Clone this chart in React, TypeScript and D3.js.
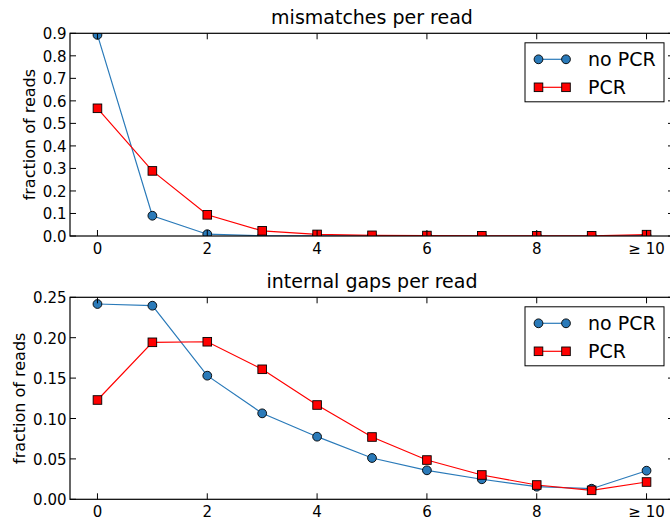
import React from "react";
import * as d3 from "d3";

const xValues = [0, 1, 2, 3, 4, 5, 6, 7, 8, 9, 10];
const xTickValues = [0, 2, 4, 6, 8, 10];
const xTickLabels = ["0", "2", "4", "6", "8", "\u2265 10"];

const mismatchNoPCR = [0.893, 0.09, 0.008, 0.001, 0.0005, 0.0003, 0.0002, 0.0001, 0.0001, 0.0001, 0.0015];
const mismatchPCR = [0.567, 0.289, 0.094, 0.023, 0.007, 0.003, 0.002, 0.001, 0.001, 0.001, 0.006];
const mismatchYTicks = [0, 0.1, 0.2, 0.3, 0.4, 0.5, 0.6, 0.7, 0.8, 0.9];

const gapsNoPCR = [0.2417, 0.2396, 0.153, 0.1064, 0.0775, 0.0511, 0.0359, 0.0248, 0.0156, 0.0131, 0.0354];
const gapsPCR = [0.1229, 0.1943, 0.195, 0.1609, 0.1167, 0.0771, 0.0486, 0.0301, 0.0177, 0.0111, 0.0214];
const gapsYTicks = [0, 0.05, 0.1, 0.15, 0.2, 0.25];

const seriesNames = ["no PCR", "PCR"];
const BLUE = "#2a7ab9";
const RED = "#ff0000";
const FONT = "DejaVu Sans, sans-serif";

type PanelProps = {
  id: string;
  title: string;
  top: number;
  bottom: number;
  yMax: number;
  yTicks: number[];
  yFmt: (v: number) => string;
  noPCR: number[];
  pcr: number[];
  ylabelX: number;
};

const LEFT = 70;
const RIGHT = 674;
const TICK = 6;

function Circle({ x, y }: { x: number; y: number }) {
  return <circle cx={x} cy={y} r={4.4} fill={BLUE} stroke="#000" strokeWidth={0.9} />;
}
function Square({ x, y }: { x: number; y: number }) {
  const s = 8.6;
  return <rect x={x - s / 2} y={y - s / 2} width={s} height={s} fill={RED} stroke="#000" strokeWidth={0.9} />;
}

function Panel(p: PanelProps) {
  const x = d3.scaleLinear().domain([-0.5, 10.5]).range([LEFT, RIGHT]);
  const y = d3.scaleLinear().domain([0, p.yMax]).range([p.bottom, p.top]);
  const line = d3
    .line<number>()
    .x((_, i) => x(xValues[i]))
    .y((d) => y(d));
  const clipId = "clip-" + p.id;
  const legX = 525;
  const legY = p.top + 9.5;
  const legW = 139;
  const legH = 59;
  return (
    <g>
      <defs>
        <clipPath id={clipId}>
          <rect x={LEFT} y={p.top} width={RIGHT - LEFT} height={p.bottom - p.top} />
        </clipPath>
      </defs>
      <text x={(LEFT + RIGHT) / 2} y={p.top - 9} textAnchor="middle" fontSize={19} fontFamily={FONT}>
        {p.title}
      </text>
      <g clipPath={`url(#${clipId})`}>
        <path d={line(p.noPCR) || ""} fill="none" stroke={BLUE} strokeWidth={1.2} />
        <path d={line(p.pcr) || ""} fill="none" stroke={RED} strokeWidth={1.2} />
        {p.noPCR.map((v, i) => (
          <Circle key={"c" + i} x={x(xValues[i])} y={y(v)} />
        ))}
        {p.pcr.map((v, i) => (
          <Square key={"s" + i} x={x(xValues[i])} y={y(v)} />
        ))}
      </g>
      {xTickValues.map((t, i) => (
        <g key={"xt" + i}>
          <line x1={x(t)} x2={x(t)} y1={p.bottom} y2={p.bottom - TICK} stroke="#000" strokeWidth={1} />
          <line x1={x(t)} x2={x(t)} y1={p.top} y2={p.top + TICK} stroke="#000" strokeWidth={1} />
          <text x={x(t)} y={p.bottom + 18} textAnchor="middle" fontSize={15} fontFamily={FONT}>
            {xTickLabels[i]}
          </text>
        </g>
      ))}
      {p.yTicks.map((t, i) => (
        <g key={"yt" + i}>
          <line x1={LEFT} x2={LEFT + TICK} y1={y(t)} y2={y(t)} stroke="#000" strokeWidth={1} />
          <line x1={RIGHT} x2={RIGHT - TICK} y1={y(t)} y2={y(t)} stroke="#000" strokeWidth={1} />
          <text x={LEFT - 3.5} y={y(t) + 6} textAnchor="end" fontSize={15} fontFamily={FONT}>
            {p.yFmt(t)}
          </text>
        </g>
      ))}
      <rect x={LEFT} y={p.top} width={RIGHT - LEFT} height={p.bottom - p.top} fill="none" stroke="#000" strokeWidth={1.2} />
      <text
        transform={`translate(${p.ylabelX},${(p.top + p.bottom) / 2}) rotate(-90)`}
        textAnchor="middle"
        fontSize={16}
        fontFamily={FONT}
      >
        fraction of reads
      </text>
      <rect x={legX} y={legY} width={legW} height={legH} fill="#fff" stroke="#000" strokeWidth={1} />
      {seriesNames.map((name, i) => {
        const ly = legY + 16.5 + i * 28;
        const color = i === 0 ? BLUE : RED;
        return (
          <g key={"leg" + i}>
            <line x1={538.5} x2={566} y1={ly} y2={ly} stroke={color} strokeWidth={1.2} />
            {i === 0 ? (
              <>
                <Circle x={538.5} y={ly} />
                <Circle x={566} y={ly} />
              </>
            ) : (
              <>
                <Square x={538.5} y={ly} />
                <Square x={566} y={ly} />
              </>
            )}
            <text x={588} y={ly + 7} fontSize={19} fontFamily={FONT}>
              {name}
            </text>
          </g>
        );
      })}
    </g>
  );
}

export default function App() {
  return (
    <svg
      width={670}
      height={527}
      style={{ position: "absolute", left: 0, top: 0, background: "#fff" }}
    >
      <rect x={0} y={0} width={670} height={527} fill="#fff" />
      <Panel
        id="mm"
        title="mismatches per read"
        top={33.3}
        bottom={236}
        yMax={0.9}
        yTicks={mismatchYTicks}
        yFmt={d3.format(".1f")}
        noPCR={mismatchNoPCR}
        pcr={mismatchPCR}
        ylabelX={35}
      />
      <Panel
        id="gp"
        title="internal gaps per read"
        top={297.3}
        bottom={499.3}
        yMax={0.25}
        yTicks={gapsYTicks}
        yFmt={d3.format(".2f")}
        noPCR={gapsNoPCR}
        pcr={gapsPCR}
        ylabelX={25}
      />
    </svg>
  );
}
